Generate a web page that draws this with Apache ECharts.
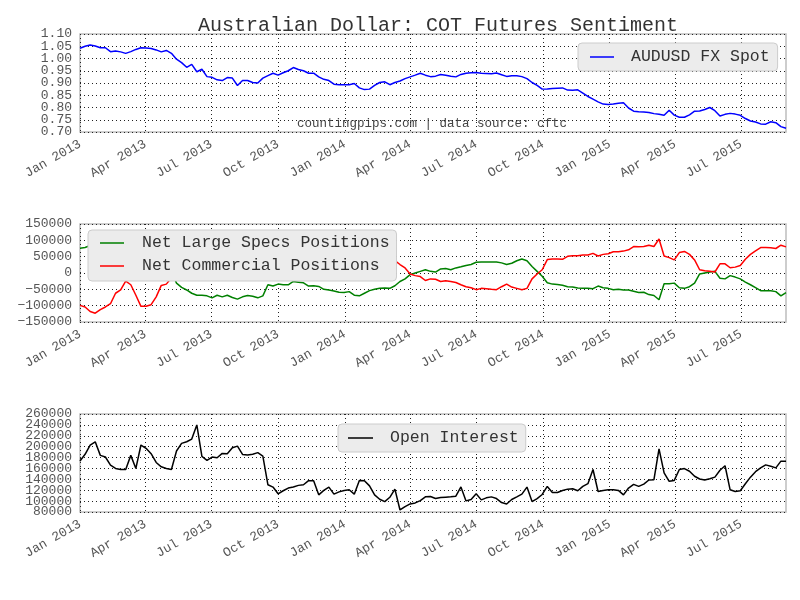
<!DOCTYPE html>
<html>
<head>
<meta charset="utf-8">
<script src="https://cdn.jsdelivr.net/npm/echarts@6/dist/echarts.min.js"></script>
<style>
  html, body { margin: 0; padding: 0; background: #fff; }
  #chart { width: 800px; height: 600px; }
</style>
</head>
<body>
<div id="chart"></div>
<script>
// weekly COT report dates: first week (Tuesday) and number of weeks
const firstWeek = [2013, 1, 1];
const weekCount = 140;

// quarter tick labels on the x axes
const quarterTicks = ['2013-01-01', '2013-04-01', '2013-07-01', '2013-10-01',
    '2014-01-01', '2014-04-01', '2014-07-01', '2014-10-01',
    '2015-01-01', '2015-04-01', '2015-07-01'];
const monthNames = ['Jan', 'Feb', 'Mar', 'Apr', 'May', 'Jun', 'Jul', 'Aug', 'Sep', 'Oct', 'Nov', 'Dec'];

// AUDUSD spot
const audusd = [
    1.042, 1.050, 1.055, 1.051, 1.044, 1.044, 1.028, 1.031, 1.027, 1.021,
    1.028, 1.037, 1.044, 1.043, 1.041, 1.035, 1.027, 1.033, 1.021, 0.997,
    0.983, 0.964, 0.976, 0.946, 0.956, 0.926, 0.923, 0.913, 0.910, 0.922,
    0.920, 0.890, 0.910, 0.910, 0.902, 0.900, 0.920, 0.930, 0.940, 0.932,
    0.942, 0.950, 0.963, 0.955, 0.950, 0.940, 0.940, 0.925, 0.915, 0.910,
    0.895, 0.893, 0.893, 0.893, 0.898, 0.880, 0.873, 0.875, 0.890, 0.902,
    0.905, 0.893, 0.902, 0.908, 0.918, 0.925, 0.932, 0.940, 0.932, 0.926,
    0.928, 0.935, 0.932, 0.928, 0.925, 0.935, 0.940, 0.942, 0.943, 0.940,
    0.939, 0.938, 0.941, 0.934, 0.927, 0.930, 0.930, 0.926, 0.918, 0.902,
    0.890, 0.875, 0.876, 0.878, 0.879, 0.880, 0.871, 0.870, 0.872, 0.859,
    0.845, 0.834, 0.823, 0.814, 0.812, 0.814, 0.817, 0.819, 0.798, 0.785,
    0.783, 0.782, 0.780, 0.775, 0.772, 0.768, 0.789, 0.769, 0.760, 0.760,
    0.770, 0.785, 0.786, 0.792, 0.800, 0.787, 0.765, 0.772, 0.776, 0.773,
    0.768, 0.755, 0.745, 0.741, 0.733, 0.732, 0.742, 0.738, 0.722, 0.715
];

// net large speculator positions
const largeSpecs = [
    76000, 78000, 84000, 92000, 88000, 82000, 72000, 50000, 38000, 18000,
    28000, 52000, 82000, 84000, 78000, 58000, 28000, 22000, 5000, -31000,
    -44000, -52000, -62000, -68000, -68000, -70000, -76000, -68000, -73000, -68000,
    -75000, -80000, -73000, -69000, -71000, -76000, -70000, -36000, -40000, -34000,
    -36000, -36000, -26000, -28000, -30000, -40000, -39000, -41000, -50000, -52000,
    -55000, -59000, -60000, -57000, -68000, -70000, -62000, -54000, -50000, -47000,
    -46000, -47000, -39000, -26000, -18000, -5000, 0, 5000, 10000, 5000,
    3000, 12500, 13500, 10000, 15600, 19000, 23000, 26000, 33000, 34000,
    34000, 34000, 34000, 31000, 26000, 30000, 37500, 43000, 37500, 20000,
    5000, -10000, -30000, -34000, -35000, -37500, -42000, -43000, -46000, -47000,
    -47000, -48000, -40000, -45000, -47000, -51000, -50000, -52000, -52000, -56000,
    -60000, -59000, -66000, -69000, -82000, -33000, -33000, -31000, -45000, -47000,
    -42000, -31000, -3000, 0, 3000, 5000, -16000, -18000, -8000, -12500,
    -18000, -28000, -36000, -45000, -54000, -54000, -54000, -57000, -70000, -60000
];

// net commercial positions
const commercials = [
    -99000, -104000, -118000, -123000, -112000, -104000, -94000, -62000, -52000, -25000,
    -36000, -68000, -102000, -102000, -97000, -73000, -38000, -34000, -15000, 20000,
    30000, 38000, 48000, 55000, 55000, 58000, 62000, 56000, 60000, 57000,
    62000, 66000, 60000, 57000, 58000, 62000, 58000, 28000, 32000, 26000,
    28000, 27000, 18000, 20000, 22000, 31000, 30000, 32000, 40000, 42000,
    45000, 48000, 49000, 46000, 56000, 58000, 50000, 44000, 40000, 38000,
    37000, 38000, 38000, 26000, 15600, -3000, -8000, -11000, -23000, -18000,
    -19000, -26000, -24000, -26000, -29000, -36000, -42000, -45000, -51000, -47000,
    -48000, -50000, -51000, -42000, -34000, -43000, -47000, -51000, -47000, -18000,
    -3000, 10000, 41000, 43000, 43000, 42000, 51000, 53000, 53000, 55000,
    55000, 60000, 52000, 57000, 59000, 65000, 65000, 67000, 71000, 81000,
    80000, 81000, 85000, 81000, 104000, 52000, 47000, 40000, 62500, 66000,
    57000, 40000, 10000, 7000, 5000, 3000, 28000, 28000, 16000, 18000,
    23000, 42000, 57000, 68000, 78000, 78000, 77000, 75000, 85000, 80000
];

// open interest
const openInterest = [
    173700, 186000, 203000, 209000, 184000, 181000, 166000, 160000, 158000, 158000,
    184000, 160000, 203000, 197000, 187000, 171000, 163000, 160000, 158000, 192000,
    206000, 209000, 214000, 240000, 182000, 175000, 181000, 179600, 187600, 187000,
    198000, 201000, 185800, 184500, 186000, 189000, 182700, 130000, 125800, 113400,
    119000, 124000, 125800, 128900, 130000, 137500, 137500, 111500, 119600, 125800,
    112800, 117000, 119600, 120800, 112800, 138000, 137500, 128000, 111500, 103500,
    99000, 107000, 122000, 83700, 90000, 94800, 96700, 101000, 107800, 108500,
    104700, 106600, 107200, 107800, 109000, 126000, 100400, 103000, 113400, 102300,
    106000, 107800, 104700, 97300, 94800, 103000, 107800, 112800, 125800, 99200,
    104700, 112200, 127000, 115900, 115900, 119600, 122000, 122700, 119000, 127000,
    132000, 158000, 117700, 119600, 120800, 120800, 119600, 111500, 124000, 130700,
    127000, 131300, 138800, 139400, 196000, 151800, 136300, 138000, 158000, 159800,
    154900, 145600, 140600, 138800, 141000, 144000, 156700, 165000, 120800, 117700,
    119000, 132000, 144000, 154000, 161000, 166600, 164000, 161000, 173400, 173400
];

// 日期 -> 时间戳
function parseDay(s) {
    const p = s.split('-').map(Number);
    return new Date(p[0], p[1] - 1, p[2]).getTime();
}
const weeks = [];
for (let i = 0; i < weekCount; i++) {
    weeks.push(new Date(firstWeek[0], firstWeek[1] - 1, firstWeek[2] + 7 * i).getTime());
}
const tickValues = quarterTicks.map(parseDay);
function pairs(values) {
    return values.map((v, i) => [weeks[i], v]);
}

const FONT = 'Liberation Mono';
const LABEL_COLOR = '#555';
const gridLine = { show: true, lineStyle: { color: '#222', type: [1, 3], width: 1 } };

// x 轴: 时间戳数值轴, 刻度放在季度首日
function makeX(gridIndex) {
    return {
        type: 'value',
        gridIndex: gridIndex,
        min: weeks[0],
        max: weeks[weeks.length - 1],
        axisLine: { show: false },
        axisTick: { show: false, customValues: tickValues },
        splitLine: gridLine,
        axisLabel: {
            customValues: tickValues,
            rotate: 30,
            margin: 11,
            showMinLabel: true,
            showMaxLabel: true,
            fontFamily: FONT,
            fontSize: 13,
            color: LABEL_COLOR,
            formatter: function (value) {
                const d = new Date(value);
                return monthNames[d.getMonth()] + ' ' + d.getFullYear();
            }
        }
    };
}
// y 轴: 标签很密, ECharts 会藏掉紧挨 min/max 的标签,
// 所以每个网格再叠一根只画这两个标签的轴
function makeY(gridIndex, min, max, interval, fmt, neighboursOnly) {
    const isNeighbour = v => Math.abs(v - (min + interval)) < interval / 10 ||
        Math.abs(v - (max - interval)) < interval / 10;
    return {
        type: 'value',
        gridIndex: gridIndex,
        position: 'left',
        min: min,
        max: max,
        interval: interval,
        axisLine: { show: false },
        axisTick: { show: false },
        splitLine: neighboursOnly ? { show: false } : gridLine,
        axisLabel: {
            margin: 8,
            showMinLabel: !neighboursOnly,
            showMaxLabel: !neighboursOnly,
            fontFamily: FONT,
            fontSize: 13,
            color: LABEL_COLOR,
            formatter: neighboursOnly ? (v => isNeighbour(v) ? fmt(v) : '') : fmt
        }
    };
}
function minusFmt(v) {
    return String(v).replace('-', '\u2212');
}
function makeLegend(names, left, top, padding, textPad, itemWidth) {
    return {
        data: names,
        orient: 'vertical',
        left: left,
        top: top,
        padding: padding,
        itemGap: 5,
        itemWidth: itemWidth,
        itemHeight: 1.5,
        icon: 'rect',
        backgroundColor: '#ececec',
        borderColor: '#cccccc',
        borderWidth: 1,
        borderRadius: 4,
        selectedMode: false,
        textStyle: {
            fontFamily: FONT,
            fontSize: 16.5,
            lineHeight: 18,
            color: '#333',
            padding: [0, 0, 0, textPad]
        }
    };
}
function lineSeries(name, values, color, axisIndex, yIndex) {
    return {
        name: name,
        type: 'line',
        xAxisIndex: axisIndex,
        yAxisIndex: yIndex,
        data: pairs(values),
        showSymbol: false,
        symbol: 'none',
        lineStyle: { color: color, width: 1.5 },
        itemStyle: { color: color }
    };
}

const chart = echarts.init(document.getElementById('chart'), null, { renderer: 'canvas' });
const gridBox = { show: true, left: 80, width: 706, height: 98, borderColor: '#bdbdbd', borderWidth: 1.5, backgroundColor: 'transparent' };
const fmt2 = v => v.toFixed(2);
const fmtInt = v => String(v);

chart.setOption({
    animation: false,
    backgroundColor: '#fff',
    title: {
        text: 'Australian Dollar: COT Futures Sentiment',
        left: 433,
        top: 11,
        textAlign: 'center',
        textStyle: { fontFamily: FONT, fontSize: 20, fontWeight: 'normal', color: '#333' }
    },
    grid: [
        Object.assign({}, gridBox, { top: 34 }),
        Object.assign({}, gridBox, { top: 224 }),
        Object.assign({}, gridBox, { top: 414 })
    ],
    xAxis: [makeX(0), makeX(1), makeX(2)],
    yAxis: [
        makeY(0, 0.7, 1.1, 0.05, fmt2, false),
        makeY(1, -150000, 150000, 50000, minusFmt, false),
        makeY(2, 80000, 260000, 20000, fmtInt, false),
        makeY(0, 0.7, 1.1, 0.05, fmt2, true),
        makeY(2, 80000, 260000, 20000, fmtInt, true)
    ],
    legend: [
        makeLegend(['AUDUSD FX Spot'], 578, 43, [5, 8, 5, 12], 12, 24),
        makeLegend(['Net Large Specs Positions', 'Net Commercial Positions'], 88, 230, [4, 7, 6, 12], 13, 24),
        makeLegend(['Open Interest'], 338, 424, [5, 7, 5, 10], 12, 25)
    ],
    graphic: [{
        type: 'text',
        left: 297,
        top: 117,
        silent: true,
        style: {
            text: 'countingpips.com | data source: cftc',
            fontFamily: FONT,
            fontSize: 12.5,
            fill: '#444'
        }
    }],
    series: [
        lineSeries('AUDUSD FX Spot', audusd, '#0000ff', 0, 0),
        lineSeries('Net Large Specs Positions', largeSpecs, '#008000', 1, 1),
        lineSeries('Net Commercial Positions', commercials, '#ff0000', 1, 1),
        lineSeries('Open Interest', openInterest, '#000000', 2, 2)
    ]
});
</script>
</body>
</html>
